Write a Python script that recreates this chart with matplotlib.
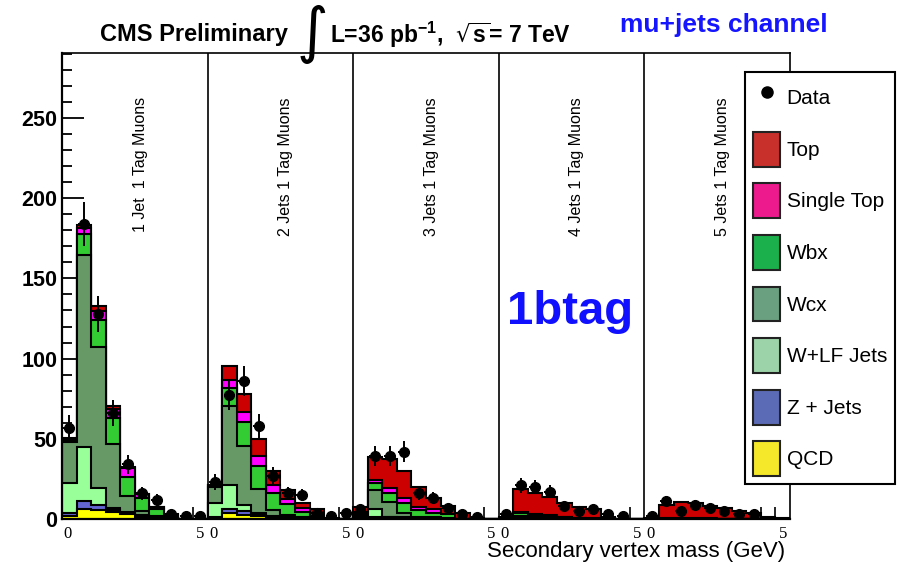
import numpy as np
import matplotlib
matplotlib.use("Agg")
import matplotlib.pyplot as plt
from matplotlib.patches import Patch
from matplotlib.lines import Line2D
from matplotlib.ticker import MultipleLocator

plt.rcParams['font.family'] = ['Liberation Sans', 'DejaVu Sans']
plt.rcParams['mathtext.default'] = 'regular'

# secondary vertex mass, 5 jet-multiplicity panels x 10 bins of 0.5 GeV
panel_labels = ["1 Jet  1 Tag Muons", "2 Jets 1 Tag Muons", "3 Jets 1 Tag Muons",
                "4 Jets 1 Tag Muons", "5 Jets 1 Tag Muons"]

qcd = [2.0, 6.5, 5.5, 4.5, 3.0, 1.5, 0.5, 0.0, 0.0, 0.0,
       0.5, 3.7, 2.7, 1.7, 1.0, 0.4, 0.2, 0.0, 0.0, 0.0,
       0.2, 0.8, 0.5, 0.5, 0.3, 0.2, 0.1, 0.0, 0.0, 0.0,
       0.0, 0.2, 0.1, 0.0, 0.0, 0.0, 0.0, 0.0, 0.0, 0.0,
       0.0, 0.0, 0.0, 0.0, 0.0, 0.0, 0.0, 0.0, 0.0, 0.0]
zjets = [1.7, 4.5, 3.0, 1.0, 0.5, 0.3, 0.2, 0.0, 0.0, 0.0,
         0.5, 2.5, 2.5, 0.8, 0.5, 0.3, 0.1, 0.0, 0.0, 0.0,
         0.2, 0.7, 0.5, 0.3, 0.2, 0.1, 0.1, 0.0, 0.0, 0.0,
         0.0, 0.2, 0.1, 0.0, 0.0, 0.0, 0.0, 0.0, 0.0, 0.0,
         0.0, 0.0, 0.0, 0.0, 0.0, 0.0, 0.0, 0.0, 0.0, 0.0]
wlf = [18.8, 34.0, 11.0, 1.5, 1.0, 0.5, 0.3, 0.0, 0.0, 0.0,
       9.0, 15.2, 3.3, 1.2, 0.5, 0.3, 0.2, 0.0, 0.0, 0.0,
       1.5, 4.5, 0.5, 0.7, 0.3, 0.2, 0.1, 0.0, 0.0, 0.0,
       0.0, 0.3, 0.2, 0.0, 0.0, 0.0, 0.0, 0.0, 0.0, 0.0,
       0.0, 0.0, 0.0, 0.0, 0.0, 0.0, 0.0, 0.0, 0.0, 0.0]
wcx = [25.5, 119.6, 88.0, 39.8, 10.0, 2.5, 1.0, 0.5, 0.0, 0.0,
       10.0, 48.8, 36.7, 14.9, 3.5, 1.2, 0.5, 0.2, 0.0, 0.0,
       1.0, 12.0, 9.3, 2.5, 0.7, 1.0, 0.5, 0.0, 0.0, 0.0,
       0.0, 1.3, 1.1, 0.8, 0.3, 0.0, 0.0, 0.0, 0.0, 0.0,
       0.0, 0.0, 0.0, 0.0, 0.0, 0.0, 0.0, 0.0, 0.0, 0.0]
wbx = [1.5, 13.1, 16.6, 16.2, 11.5, 8.5, 4.5, 1.5, 0.1, 0.1,
       1.0, 11.5, 15.0, 14.6, 11.0, 7.2, 3.5, 1.0, 0.0, 0.0,
       1.0, 4.2, 5.6, 5.8, 4.1, 2.5, 2.1, 0.3, 0.0, 0.0,
       0.2, 1.5, 1.2, 1.2, 0.8, 0.4, 0.2, 0.0, 0.0, 0.0,
       0.0, 0.3, 0.3, 0.2, 0.2, 0.0, 0.0, 0.0, 0.0, 0.0]
single_top = [0.5, 3.7, 5.7, 5.6, 6.0, 2.0, 0.7, 0.5, 0.0, 0.0,
              0.2, 5.2, 6.3, 5.8, 4.6, 3.0, 2.2, 0.5, 0.0, 0.0,
              0.3, 2.1, 2.7, 3.1, 2.1, 2.0, 0.2, 0.0, 0.0, 0.0,
              0.0, 0.8, 0.6, 0.5, 0.4, 0.3, 0.2, 0.0, 0.0, 0.0,
              0.0, 0.3, 0.3, 0.3, 0.2, 0.2, 0.1, 0.0, 0.0, 0.0]
top = [0.3, 1.9, 2.7, 1.7, 0.6, 0.5, 0.3, 0.5, 0.2, 0.1,
       0.3, 8.3, 11.5, 10.8, 8.9, 5.5, 3.3, 4.3, 0.5, 0.3,
       3.5, 14.5, 18.1, 17.2, 12.4, 6.9, 5.2, 3.2, 0.5, 0.2,
       0.8, 14.2, 13.1, 11.0, 8.3, 7.0, 5.6, 1.0, 0.3, 0.0,
       0.5, 8.1, 10.2, 9.3, 7.9, 6.4, 5.1, 3.5, 1.5, 0.8]
data = [57, 184, 128, 66, 34, 16, 12, 3, 2, 2,
        23, 77, 86, 58, 27, 16, 15, 4, 2, 4,
        6, 39, 39, 42, 16, 13, 7, 3, 1, 0,
        3, 21, 20, 17, 8, 5, 6, 3, 2, 0,
        2, 11, 5, 9, 7, 5, 3, 3, 0, 0]

layer_names = ["QCD", "Z + Jets", "W+LF Jets", "Wcx", "Wbx", "Single Top", "Top"]
hist_colors = ["#ffff00", "#6464d2", "#99ff99", "#669966", "#33cc33", "#ff00ff", "#cc0000"]
legend_colors = ["#f5e82a", "#5c6bb5", "#9dd3a8", "#6aa07f", "#1cb04c", "#ec1a8c", "#c8302c"]

n_panels = 5
edges = np.arange(0, n_panels * 5 + 0.01, 0.5)
centers = edges[:-1] + 0.25

fig = plt.figure(figsize=(8.99, 5.68), dpi=100)
ax = fig.add_axes([62 / 899, 1 - 519 / 568, (790 - 62) / 899, (519 - 53) / 568])

# stacked histograms, drawn from the top of the stack down (ROOT style)
layers = np.array([qcd, zjets, wlf, wcx, wbx, single_top, top])
cum = np.cumsum(layers, axis=0)
for k in reversed(range(len(layers))):
    ax.stairs(cum[k], edges, baseline=0, fill=True, facecolor=hist_colors[k],
              edgecolor="black", linewidth=1.5, zorder=2)

d = np.array(data, dtype=float)
d[d == 0] = np.nan
ax.errorbar(centers, d, yerr=np.sqrt(d), xerr=0.2, fmt="o", color="black",
            ms=7, elinewidth=1.4, capsize=0, zorder=5)

for i in range(1, n_panels):
    ax.axvline(i * 5, color="black", lw=1.2, zorder=3)

for i, lab in enumerate(panel_labels):
    ax.text(i * 5 + 2.68, 263, lab, rotation=90, ha="center", va="top", fontsize=11.5)

ax.text(15.28, 129, "1btag", color="#1010ff", fontsize=34, fontweight="bold",
        ha="left", va="center")

ax.set_xlim(0, n_panels * 5)
ax.set_ylim(0, 290.5)

ax.set_yticks(range(0, 251, 50))
ax.yaxis.set_minor_locator(MultipleLocator(10))
ax.tick_params(axis="y", which="major", direction="in", length=16, width=1.3,
               labelsize=15.5, pad=3.5)
ax.tick_params(axis="y", which="minor", direction="in", length=7.5, width=1.3)
for t in ax.get_yticklabels():
    t.set_fontweight("bold")

xpos, xlab = [0.2], ["0"]
for i in range(1, n_panels):
    xpos += [i * 5 - 0.25, i * 5 + 0.2]
    xlab += ["5", "0"]
xpos.append(n_panels * 5 - 0.25)
xlab.append("5")
ax.set_xticks(xpos, xlab)
ax.tick_params(axis="x", which="major", length=0, pad=5, labelsize=12)
for t in ax.get_xticklabels():
    t.set_fontfamily("Liberation Serif")
ax.set_xticks([4.5, 9.5, 14.5, 19.5, 24.0, 24.5], minor=True)
ax.tick_params(axis="x", which="minor", direction="in", length=9, width=1.2)

for s in ["left", "bottom"]:
    ax.spines[s].set_linewidth(1.6)
for s in ["top", "right"]:
    ax.spines[s].set_linewidth(1.2)

handles = [Line2D([], [], marker="o", ls="none", color="black", ms=8)]
labels = ["Data"]
for k in reversed(range(len(layers))):
    handles.append(Patch(facecolor=legend_colors[k], edgecolor="#222222", linewidth=1.5))
    labels.append(layer_names[k])
leg = fig.legend(handles, labels, loc="upper left", bbox_to_anchor=(745 / 899, 1 - 72 / 568),
                 fontsize=15, handlelength=1.3, handleheight=2.2, labelspacing=0.8,
                 borderpad=0.4, handletextpad=0.3, fancybox=False, framealpha=1,
                 edgecolor="black", borderaxespad=0)
leg.get_frame().set_linewidth(1.5)

# header
fig.text(100 / 899, 1 - 35 / 568, "CMS Preliminary", fontsize=17, fontweight="bold", va="center")
fig.text(311 / 899, 1 - 34 / 568, r"$\int$", fontsize=31, ha="center", va="center")
fig.text(330 / 899, 1 - 35 / 568, r"L=36 pb$^{-1}$,  $\sqrt{s}$= 7 TeV", fontsize=16.5,
         fontweight="bold", va="center")
fig.text(620 / 899, 1 - 25 / 568, "mu+jets channel", color="#1515ff", fontsize=19,
         fontweight="bold", va="center")
fig.text(785 / 899, 1 - 552 / 568, "Secondary vertex mass (GeV)", ha="right", va="center",
         fontsize=16)

fig.savefig("out.png", dpi=100)
